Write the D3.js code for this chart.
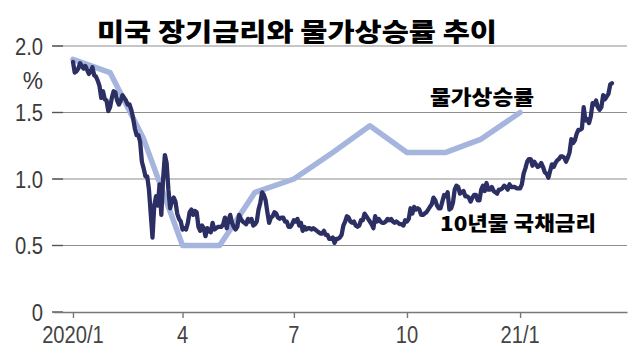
<!DOCTYPE html>
<html><head><meta charset="utf-8">
<script src="https://cdn.jsdelivr.net/npm/d3@7"></script>
<style>html,body{margin:0;padding:0;background:#fff;}svg{display:block;}</style>
</head><body>
<svg id="c" width="637" height="357"></svg>
<script>
// ---- DATA ----
const title = "미국 장기금리와 물가상승률 추이";
const labelInflation = "물가상승률";
const labelYield = "10년물 국채금리";
const yTicks = [0, 0.5, 1.0, 1.5, 2.0];
const yTickLabels = ["0", "0.5", "1.0", "1.5", "2.0"];
const xTickMonths = [0, 3, 6, 9, 12];           // month index (0 = 2020/1)
const xTickLabels = ["2020/1", "4", "7", "10", "21/1"];

// US 10-year Treasury yield (%), daily closes, one array per month (2020/1 .. 2021/3)
const yieldMonths = ["2020-01","2020-02","2020-03","2020-04","2020-05","2020-06","2020-07","2020-08",
  "2020-09","2020-10","2020-11","2020-12","2021-01","2021-02","2021-03"];
const yieldJan20 = [1.88,1.80,1.81,1.83,1.87,1.85,1.83,1.85,1.82,1.79,1.81,1.84,1.78,1.77,1.74,1.70,1.61,1.66,1.60,1.59,1.51];
const yieldFeb20 = [1.54,1.61,1.66,1.65,1.59,1.56,1.59,1.63,1.61,1.59,1.56,1.56,1.52,1.46,1.38,1.33,1.33,1.28,1.13];
const yieldMar20 = [1.08,1.02,1.02,0.92,0.74,0.56,0.80,0.87,0.80,0.96,0.73,1.00,1.18,1.12,0.92,0.78,0.84,0.86,0.83,0.74,0.70,0.68];
const yieldApr20 = [0.62,0.63,0.62,0.67,0.75,0.77,0.73,0.76,0.75,0.64,0.61,0.65,0.63,0.57,0.63,0.61,0.60,0.67,0.62,0.63,0.64];
const yieldMay20 = [0.64,0.64,0.66,0.71,0.63,0.69,0.73,0.67,0.64,0.62,0.64,0.73,0.70,0.68,0.67,0.66,0.70,0.68,0.70,0.65];
const yieldJun20 = [0.66,0.68,0.77,0.82,0.90,0.88,0.84,0.75,0.67,0.71,0.72,0.75,0.74,0.71,0.70,0.71,0.71,0.68,0.68,0.64,0.64,0.66];
const yieldJul20 = [0.69,0.68,0.70,0.65,0.67,0.61,0.64,0.62,0.63,0.63,0.62,0.63,0.62,0.61,0.60,0.59,0.59,0.61,0.58,0.58,0.55,0.55];
const yieldAug20 = [0.56,0.52,0.55,0.55,0.56,0.58,0.65,0.68,0.72,0.71,0.68,0.67,0.68,0.65,0.64,0.65,0.69,0.69,0.74,0.72,0.70];
const yieldSep20 = [0.68,0.66,0.63,0.72,0.68,0.70,0.68,0.67,0.67,0.68,0.70,0.69,0.70,0.68,0.67,0.68,0.67,0.66,0.66,0.65,0.69];
const yieldOct20 = [0.68,0.70,0.78,0.74,0.79,0.77,0.78,0.77,0.73,0.73,0.74,0.75,0.77,0.79,0.81,0.86,0.84,0.80,0.78,0.78,0.83,0.88];
const yieldNov20 = [0.87,0.90,0.77,0.78,0.82,0.92,0.95,0.94,0.89,0.90,0.91,0.87,0.87,0.86,0.83,0.86,0.88,0.88,0.84,0.84];
const yieldDec20 = [0.92,0.95,0.91,0.97,0.92,0.92,0.94,0.91,0.90,0.89,0.92,0.92,0.93,0.95,0.94,0.92,0.96,0.94,0.94,0.94,0.93,0.93];
const yieldJan21 = [0.93,0.96,1.04,1.08,1.13,1.15,1.15,1.10,1.13,1.11,1.09,1.10,1.12,1.09,1.05,1.04,1.01,1.06,1.11];
const yieldFeb21 = [1.09,1.12,1.14,1.15,1.17,1.17,1.16,1.13,1.16,1.20,1.30,1.27,1.29,1.34,1.37,1.37,1.38,1.54,1.44];
const yieldMar21 = [1.45,1.42,1.47,1.57,1.56,1.59,1.54,1.52,1.54,1.63,1.60,1.62,1.64,1.71,1.72];

// Inflation rate (%), monthly, 2020/1 .. 2021/1
const inflationMonths = [0,1,2,3,4,5,6,7,8,9,10,11,12];
const inflationValues = [1.9,1.8,1.3,0.5,0.5,0.9,1.0,1.2,1.4,1.2,1.2,1.3,1.5];

// ---- BUILD ----
const yieldByMonth = [yieldJan20,yieldFeb20,yieldMar20,yieldApr20,yieldMay20,yieldJun20,yieldJul20,
  yieldAug20,yieldSep20,yieldOct20,yieldNov20,yieldDec20,yieldJan21,yieldFeb21,yieldMar21];
const monthStart = [];
let acc = 0;
yieldByMonth.forEach(m => { monthStart.push(acc); acc += m.length; });
const yieldSeries = [];
yieldByMonth.forEach((m, mi) => m.forEach((v, k) => yieldSeries.push({i: monthStart[mi] + k, v})));
const inflationSeries = inflationMonths.map((m, k) => ({i: monthStart[m], v: inflationValues[k]}));

const svg = d3.select("#c");
const x = d3.scaleLinear().domain([-11.3, 313.5]).range([53, 627]);
const y = d3.scaleLinear().domain([0, 2]).range([312, 46]);

const font = "'Liberation Sans', Arial, sans-serif";
const kfont = "'Noto Sans CJK KR', sans-serif";

// gridlines
svg.append("g").selectAll("line").data(yTicks.filter(t => t > 0)).join("line")
  .attr("x1", 53).attr("x2", 627)
  .attr("y1", d => y(d)).attr("y2", d => y(d))
  .attr("stroke", "#8e8e8e").attr("stroke-width", 1.2);
// left tick stubs
svg.append("g").selectAll("line").data(yTicks).join("line")
  .attr("x1", 52).attr("x2", 63)
  .attr("y1", d => y(d)).attr("y2", d => y(d))
  .attr("stroke", "#555").attr("stroke-width", 1.4);
// y labels
svg.append("g").selectAll("text").data(yTicks).join("text")
  .attr("transform", d => `translate(43,${y(d) + 8.5}) scale(0.86,1)`)
  .attr("text-anchor", "end")
  .attr("font-family", font).attr("font-size", 23.5).attr("fill", "#3a3a3a")
  .text((d, k) => yTickLabels[k]);
svg.append("text")
  .attr("transform", "translate(33,89) scale(0.95,1)")
  .attr("text-anchor", "middle")
  .attr("font-family", font).attr("font-size", 24).attr("fill", "#3a3a3a")
  .text("%");

// x axis
const xAxis = d3.axisBottom(x)
  .tickValues(xTickMonths.map(m => monthStart[m]))
  .tickSizeOuter(0).tickSizeInner(6).tickFormat(() => "");
const gx = svg.append("g").attr("transform", `translate(0,${y(0)})`).call(xAxis);
gx.select(".domain").attr("stroke", "#777").attr("stroke-width", 1.4);
gx.selectAll(".tick line").attr("stroke", "#777").attr("stroke-width", 1.4);
svg.append("g").selectAll("text").data(xTickMonths).join("text")
  .attr("transform", d => `translate(${x(monthStart[d])},343) scale(0.84,1)`)
  .attr("text-anchor", "middle")
  .attr("font-family", font).attr("font-size", 24).attr("fill", "#444")
  .text((d, k) => xTickLabels[k]);

// lines
const line = d3.line().x(d => x(d.i)).y(d => y(d.v));
svg.append("path").datum(inflationSeries)
  .attr("d", line).attr("fill", "none")
  .attr("stroke", "#a5b5dd").attr("stroke-width", 5.5)
  .attr("stroke-linejoin", "round").attr("stroke-linecap", "round");
svg.append("path").datum(yieldSeries)
  .attr("d", line).attr("fill", "none")
  .attr("stroke", "#2c2f63").attr("stroke-width", 4.3)
  .attr("stroke-linejoin", "round").attr("stroke-linecap", "round");

// title and labels
svg.append("text")
  .attr("x", 97).attr("y", 41)
  .attr("font-family", kfont).attr("font-weight", 900).attr("font-size", 25)
  .attr("textLength", 400).attr("lengthAdjust", "spacingAndGlyphs")
  .attr("fill", "#000").text(title);
svg.append("text")
  .attr("x", 430).attr("y", 105)
  .attr("font-family", kfont).attr("font-weight", 900).attr("font-size", 20)
  .attr("textLength", 104).attr("lengthAdjust", "spacingAndGlyphs")
  .attr("fill", "#000").text(labelInflation);
svg.append("text")
  .attr("x", 440).attr("y", 231)
  .attr("font-family", kfont).attr("font-weight", 900).attr("font-size", 20)
  .attr("textLength", 156).attr("lengthAdjust", "spacingAndGlyphs")
  .attr("fill", "#000").text(labelYield);
</script>
</body></html>
